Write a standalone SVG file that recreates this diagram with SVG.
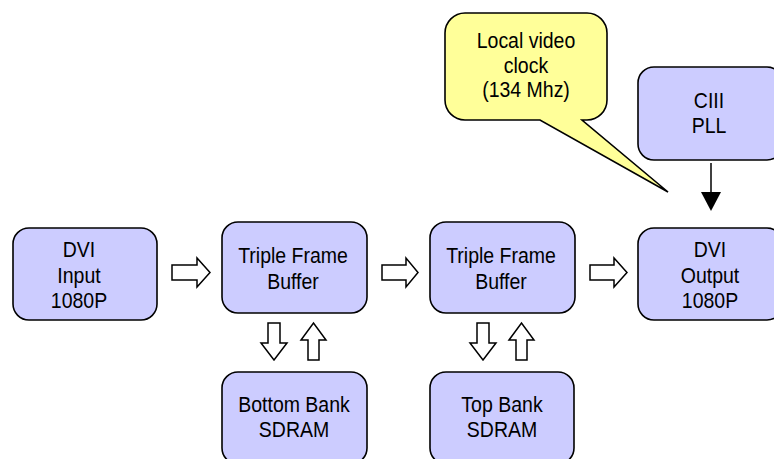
<svg xmlns="http://www.w3.org/2000/svg" width="774" height="459" viewBox="0 0 774 459">
<style>
.box{fill:#CCCCFF;stroke:#000;stroke-width:1.6}
.call{fill:#FFFF99;stroke:#000;stroke-width:1.6}
.t{font-family:"Liberation Sans",Arial,sans-serif;font-size:19.5px;fill:#000;text-anchor:middle}
.ha{fill:#fff;stroke:#000;stroke-width:1.5;stroke-linejoin:miter}
</style>
<rect width="774" height="459" fill="#fff"/>
<g id="dvi-input"><rect class="box" x="13" y="228" width="144" height="92" rx="16"/>
<text class="t" transform="matrix(1 0 0 1.15 79 256.5)">DVI</text><text class="t" transform="matrix(1 0 0 1.15 79 282.5)">Input</text><text class="t" transform="matrix(1 0 0 1.15 79 308)">1080P</text></g>
<g id="tfb1"><rect class="box" x="222" y="222" width="145" height="91" rx="16"/>
<text class="t" transform="matrix(1 0 0 1.15 293 263)">Triple Frame</text><text class="t" transform="matrix(1 0 0 1.15 293 289)">Buffer</text></g>
<g id="tfb2"><rect class="box" x="430" y="222" width="145" height="91" rx="16"/>
<text class="t" transform="matrix(1 0 0 1.15 501 263)">Triple Frame</text><text class="t" transform="matrix(1 0 0 1.15 501 289)">Buffer</text></g>
<g id="dvi-output"><rect class="box" x="638" y="228" width="145" height="92" rx="16"/>
<text class="t" transform="matrix(1 0 0 1.15 710 256.5)">DVI</text><text class="t" transform="matrix(1 0 0 1.15 710 282.5)">Output</text><text class="t" transform="matrix(1 0 0 1.15 710 308)">1080P</text></g>
<g id="bottom-bank"><rect class="box" x="222" y="372" width="145" height="92" rx="16"/>
<text class="t" transform="matrix(1 0 0 1.15 294 412)">Bottom Bank</text><text class="t" transform="matrix(1 0 0 1.15 294 437)">SDRAM</text></g>
<g id="top-bank"><rect class="box" x="430" y="372" width="144" height="92" rx="16"/>
<text class="t" transform="matrix(1 0 0 1.15 502 412)">Top Bank</text><text class="t" transform="matrix(1 0 0 1.15 502 437)">SDRAM</text></g>
<g id="ciii-pll"><rect class="box" x="638" y="67" width="145" height="93" rx="16"/>
<text class="t" transform="matrix(1 0 0 1.15 709 108)">CIII</text><text class="t" transform="matrix(1 0 0 1.15 709 133)">PLL</text></g>
<g id="callout"><path class="call" d="M465 13 H587 A20 20 0 0 1 607 33 V100 A20 20 0 0 1 587 120 H582 L668 192 L540 120 H465 A20 20 0 0 1 445 100 V33 A20 20 0 0 1 465 13 Z"/>
<text class="t" transform="matrix(1 0 0 1.15 526 48)">Local video</text><text class="t" transform="matrix(1 0 0 1.15 526 73)">clock</text><text class="t" transform="matrix(1 0 0 1.15 526 97)">(134 Mhz)</text></g>
<g id="connectors">
<path class="ha" d="M172 265 H197 V258 L210 272.5 L197 287 V280 H172 Z"/>
<path class="ha" d="M382 265 H406 V258 L418 272.5 L406 287 V280 H382 Z"/>
<path class="ha" d="M590 265 H614 V258 L627 272.5 L614 287 V280 H590 Z"/>
<path class="ha" d="M268 323 H280 V343 H287 L274 360 L261 343 H268 Z"/>
<path class="ha" d="M308 360 H319 V340 H326 L313.5 323 L301 340 H308 Z"/>
<path class="ha" d="M477 323 H489 V343 H496 L483 360 L470 343 H477 Z"/>
<path class="ha" d="M516 360 H527 V340 H534 L521.5 323 L509 340 H516 Z"/>
<line x1="711" y1="163" x2="711" y2="194" stroke="#000" stroke-width="1.5"/>
<path d="M701 192 H721 L711 211 Z" fill="#000"/>
</g>
</svg>
